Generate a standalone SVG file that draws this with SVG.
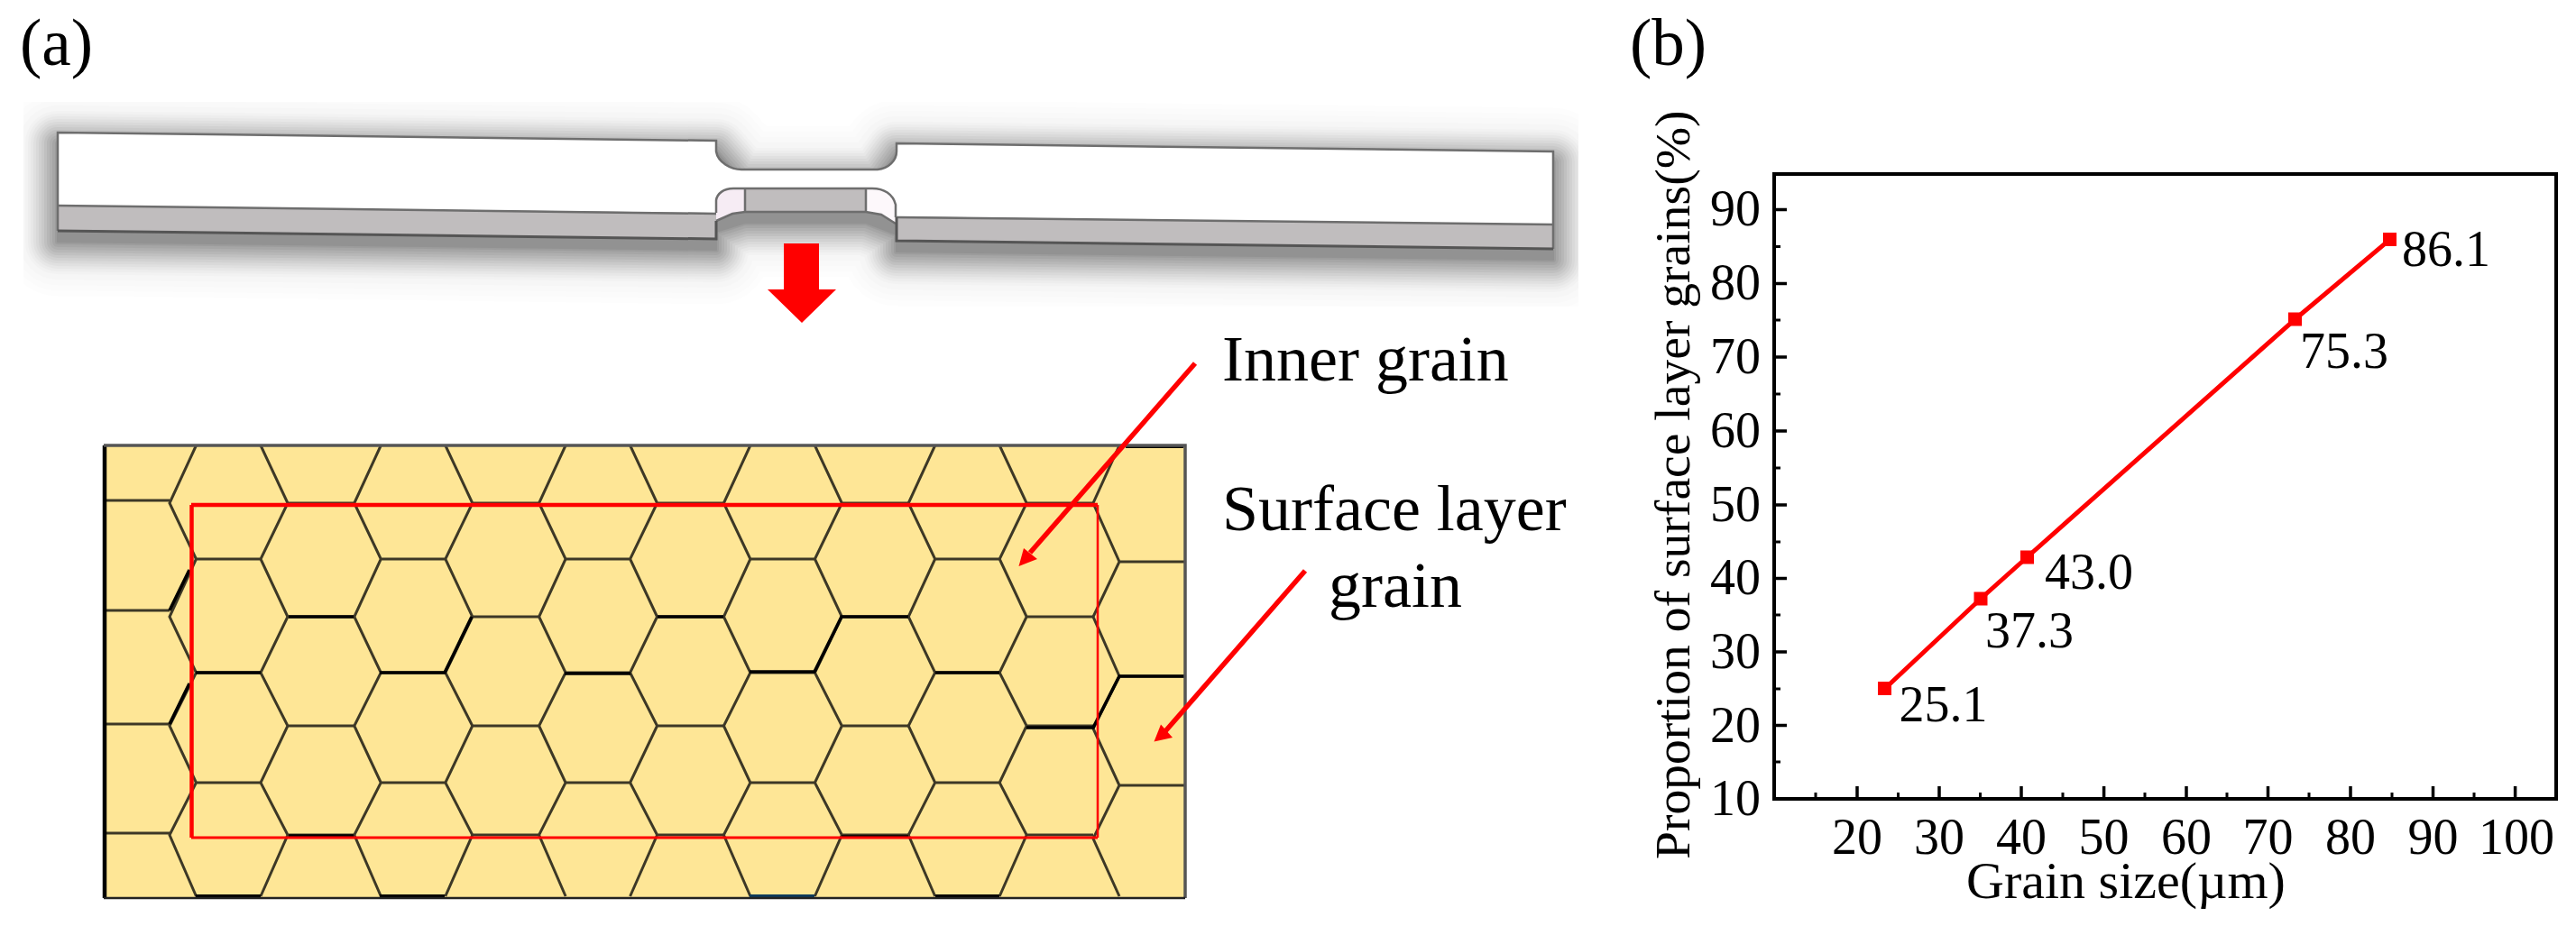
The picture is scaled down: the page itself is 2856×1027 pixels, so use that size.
<svg xmlns="http://www.w3.org/2000/svg" xmlns:xlink="http://www.w3.org/1999/xlink" width="2856" height="1027" viewBox="0 0 2856 1027">
<style>
text{font-family:"Liberation Serif","Times New Roman",serif;fill:#000}
.big{font-size:73px}
.lab{font-size:72px}
.num{font-size:56px}
.tx{font-size:56px;text-anchor:middle}
.ty{font-size:56px;text-anchor:end}
.edge{fill:none;stroke:#6e6e6e;stroke-width:2.5}
.edgeD{fill:none;stroke:#555;stroke-width:3}
.side{fill:#c0bdbe}
.hex{fill:none;stroke:#3d3826;stroke-width:3}
.bold{fill:none;stroke:#000;stroke-width:3.6}
.red{fill:none;stroke:#f00}
.axis{fill:none;stroke:#000;stroke-width:4}
.major{stroke:#000;stroke-width:3.5}
.minor{stroke:#000;stroke-width:3}
.pt{fill:#f00}
.shade{fill:#000;stroke:#000;stroke-linejoin:round}
</style>
<defs>
<clipPath id="shadowClip"><rect x="26" y="113" width="1724" height="227"/></clipPath>
<path id="sil" d="M64 147L794 156L822 188H973L994 159L1722 168V276L994 267V248L960 235H826L794 245V265L64 256Z"/>
<path id="tile" d="M29.5 494L0 558L29.5 620L0 684L29.5 746L0 805L29.5 868L0 926L29.5 994M101 494L131 558L101 620L131 684L101 746L131 805L101 868L131 926L101 994M29.5 620H101M29.5 746H101M29.5 868H101M131 558H204.8M131 684H204.8M131 805H204.8M131 926H204.8"/>
</defs>
<rect width="2856" height="1027" fill="#fff"/>

<text class="big" x="22" y="72">(a)</text>
<text class="big" x="1807" y="72">(b)</text>

<g id="specimen">
<g clip-path="url(#shadowClip)">
<g class="shade" transform="translate(0 12)">
<use href="#sil" stroke-width="120" opacity=".004"/>
<use href="#sil" stroke-width="108" opacity=".004"/>
<use href="#sil" stroke-width="96" opacity=".005"/>
<use href="#sil" stroke-width="84" opacity=".008"/>
<use href="#sil" stroke-width="72" opacity=".013"/>
<use href="#sil" stroke-width="66" opacity=".016"/>
<use href="#sil" stroke-width="60" opacity=".018"/>
<use href="#sil" stroke-width="54" opacity=".022"/>
<use href="#sil" stroke-width="48" opacity=".026"/>
<use href="#sil" stroke-width="42" opacity=".032"/>
<use href="#sil" stroke-width="36" opacity=".032"/>
<use href="#sil" stroke-width="30" opacity=".04"/>
<use href="#sil" stroke-width="24" opacity=".04"/>
<use href="#sil" stroke-width="18" opacity=".04"/>
<use href="#sil" stroke-width="12" opacity=".045"/>
<use href="#sil" stroke-width="6" opacity=".05"/>
<use href="#sil" stroke-width="2" opacity=".06"/>
</g>
</g>
<path fill="#fff" d="M64 147L794 156V168C796 180 810 188 822 188H973C985 187 994 178 994 168V159L1722 168V249L994 240L993 227C990 215 980 209 967 209H813C802 209 795 215 794 222V236L64 228Z"/>
<path class="side" d="M64 228L794 237V265L64 256Z"/>
<path class="side" d="M994 241L1722 249V276L994 267Z"/>
<path class="side" d="M826 209H960V235H826Z"/>
<path fill="#f6ecf4" d="M794 222C795 215 802 209 813 209H826V235L812 237L794 245Z"/>
<path fill="#fdf8fb" d="M960 209H967C980 209 990 215 993 227V248L977 238L960 235Z"/>
<path class="edge" d="M794 236V222C795 215 802 209 813 209H967C980 209 990 215 993 227V241M826 209V235M960 209V235"/>
<path class="edge" d="M64 228L794 237M994 241L1722 249"/>
<path class="edge" d="M794 245L812 237L826 235H960L977 238L993 248"/>
<path class="edge" d="M64 256V147L794 156V168C796 180 810 188 822 188H973C985 187 994 178 994 168V159L1722 168V276"/>
<path class="edgeD" d="M64 256L794 265V245M994 241V267L1722 276"/>
</g>

<path id="down-arrow" fill="#f00" d="M869 270H908V321H927L889 358L851 321H869Z"/>

<g id="grain-model">
<rect x="115" y="494" width="1199" height="502" fill="#fee696"/>
<g class="hex">
<use xlink:href="#tile" href="#tile" transform="translate(188 0)"/>
<use xlink:href="#tile" href="#tile" transform="translate(392.8 0)"/>
<use xlink:href="#tile" href="#tile" transform="translate(597.6 0)"/>
<use xlink:href="#tile" href="#tile" transform="translate(802.4 0)"/>
<use xlink:href="#tile" href="#tile" transform="translate(1007.2 0)"/>
<path d="M1241 494L1212 558L1241 623L1212 684L1241 750L1212 808L1241 871L1212 930L1241 994M1241 623H1314M1241 750H1314M1241 871H1314M115 555H188M115 677H188M115 803H188M115 924H188"/>
</g>
<path class="bold" d="M320 684H392M217 746H289M421 746H493L523 684M626 747H699M729 684H802M831 745H903L933 684H1007M1037 746H1108M1138 807H1212L1241 750H1314M188 677L210 632M188 803L210 758M320 927H392M933 928H1007"/>
<path fill="none" stroke="#000" stroke-width="4" d="M217 994H289M421 994H493M1037 994H1108M1248 495H1312"/>
<path fill="none" stroke="#0d3b5c" stroke-width="4" d="M831 994H903"/>
<path fill="none" stroke="#000" stroke-width="4.5" d="M116 494V996"/>
<path fill="none" stroke="#555" stroke-width="3.5" d="M115 494H1314V996"/>
<path fill="none" stroke="#222" stroke-width="2.5" d="M115 996H1314"/>
<path class="red" stroke-width="4.5" d="M212 560H1217"/>
<path class="red" stroke-width="4.5" d="M212.5 560V929"/>
<path class="red" stroke-width="3" d="M212 929H1217"/>
<path class="red" stroke-width="2.5" d="M1217 560V929"/>
</g>

<g id="connectors">
<path class="red" stroke-width="5.5" d="M1325 403L1142 613"/>
<path fill="#f00" d="M1129.5 628L1135 608L1150 620Z"/>
<path class="red" stroke-width="5.5" d="M1447 633L1292 811"/>
<path fill="#f00" d="M1279.5 822.5L1287 803.6L1300 818Z"/>
</g>
<g id="label-inner"><text class="lab" x="1355" y="422">Inner grain</text></g>
<g id="label-surface">
<text class="lab" x="1355" y="588">Surface layer</text>
<text class="lab" x="1473" y="673">grain</text>
</g>

<g id="chart">
<rect class="axis" x="1967" y="193" width="867" height="693"/>
<g class="major">
<path d="M1967 232.6h14M1967 314.4h14M1967 396h14M1967 478h14M1967 560h14M1967 641.6h14M1967 723h14M1967 804.6h14"/>
<path d="M2059 886v-14M2150 886v-14M2241 886v-14M2332.6 886v-14M2424 886v-14M2514.5 886v-14M2606 886v-14M2697.5 886v-14M2788.6 886v-14"/>
</g>
<g class="minor">
<path d="M1967 273.5h7M1967 355h7M1967 437h7M1967 519h7M1967 601h7M1967 682h7M1967 764h7M1967 845h7"/>
<path d="M2013 886v-7M2104.5 886v-7M2195.5 886v-7M2287 886v-7M2378 886v-7M2469 886v-7M2560 886v-7M2652 886v-7M2743 886v-7"/>
</g>
<g class="ty">
<text class="ty" x="1952" y="250">90</text>
<text class="ty" x="1952" y="332">80</text>
<text class="ty" x="1952" y="414">70</text>
<text class="ty" x="1952" y="496">60</text>
<text class="ty" x="1952" y="578">50</text>
<text class="ty" x="1952" y="659">40</text>
<text class="ty" x="1952" y="741">30</text>
<text class="ty" x="1952" y="823">20</text>
<text class="ty" x="1952" y="904">10</text>
</g>
<text class="tx" x="2059" y="947">20</text>
<text class="tx" x="2150" y="947">30</text>
<text class="tx" x="2241" y="947">40</text>
<text class="tx" x="2332.6" y="947">50</text>
<text class="tx" x="2424" y="947">60</text>
<text class="tx" x="2514.5" y="947">70</text>
<text class="tx" x="2606" y="947">80</text>
<text class="tx" x="2697.5" y="947">90</text>
<text class="tx" x="2790" y="947">100</text>
<text x="2180" y="996" font-size="58">Grain size(µm)</text>
<text transform="translate(1873 953) rotate(-90)" font-size="55.6">Proportion of surface layer grains(%)</text>
<polyline class="red" stroke-width="5" points="2089.7,763.7 2196,664 2247.4,618 2544.6,354 2649.7,265.7"/>
<rect class="pt" x="2082" y="756" width="15" height="15"/>
<rect class="pt" x="2188.5" y="656.5" width="15" height="15"/>
<rect class="pt" x="2240" y="610.5" width="15" height="15"/>
<rect class="pt" x="2537" y="346.5" width="15" height="15"/>
<rect class="pt" x="2642" y="258" width="15" height="15"/>
<text class="num" x="2105.5" y="800">25.1</text>
<text class="num" x="2201" y="717.5">37.3</text>
<text class="num" x="2267" y="652.5">43.0</text>
<text class="num" x="2550" y="408">75.3</text>
<text class="num" x="2663" y="295">86.1</text>
</g>
</svg>
